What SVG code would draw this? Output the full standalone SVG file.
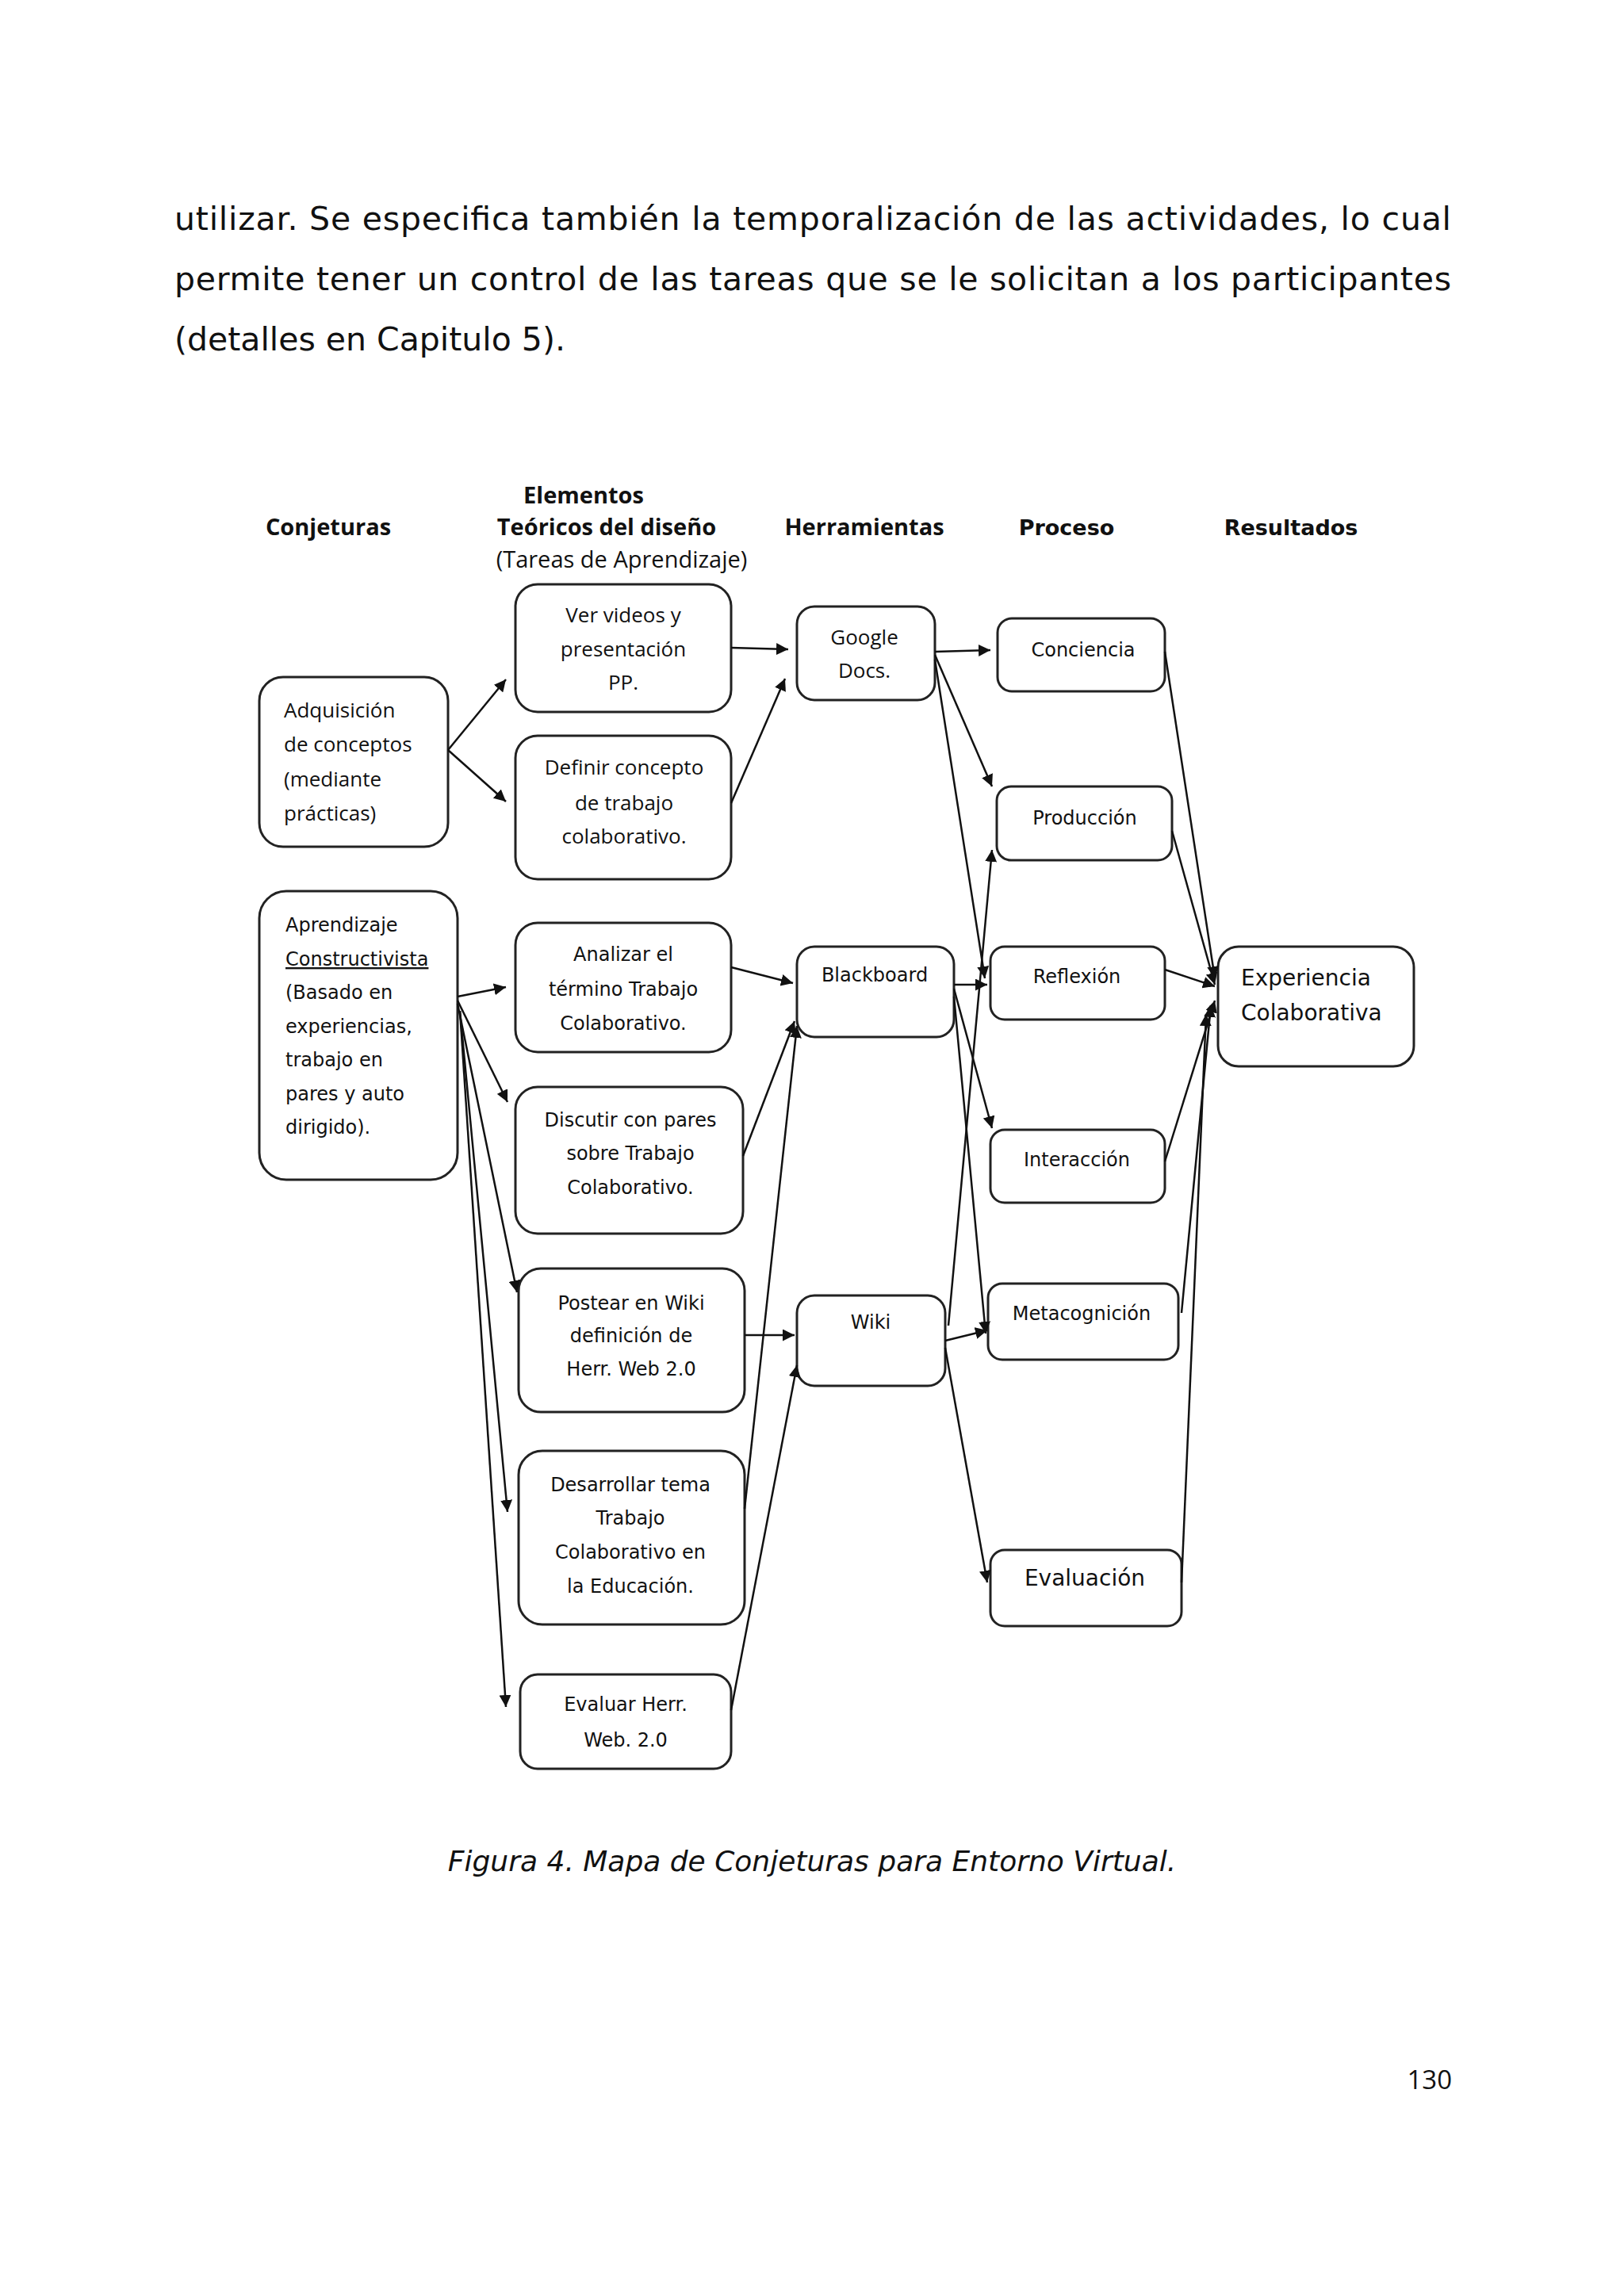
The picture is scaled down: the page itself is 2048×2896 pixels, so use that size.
<svg xmlns="http://www.w3.org/2000/svg" width="2048" height="2896" viewBox="0 0 2048 2896">
<style>
.bx{fill:#fff;stroke:#222;stroke-width:3}
.c{font-family:"Open Sans","Liberation Sans",sans-serif;font-size:26px;fill:#111}
.v{font-family:"DejaVu Sans","Liberation Sans",sans-serif;font-size:24px;fill:#111}
.h{font-family:"Open Sans","Liberation Sans",sans-serif;font-size:29px;font-weight:bold;fill:#111}
.hv{font-family:"DejaVu Sans",sans-serif;font-size:27px;font-weight:bold;fill:#111}
.p{font-family:"DejaVu Sans",sans-serif;font-size:41px;fill:#111}
.m{text-anchor:middle}
#connectors line{stroke:#111;stroke-width:2.5;marker-end:url(#ah)}
</style>
<defs><marker id="ah" viewBox="0 0 10 10" refX="10" refY="5" markerWidth="6" markerHeight="6" orient="auto" markerUnits="strokeWidth"><path d="M0,0L10,5L0,10z" fill="#111"/></marker></defs>
<rect width="2048" height="2896" fill="#fff"/>
<text class="p" x="220" y="290" textLength="1610" lengthAdjust="spacing">utilizar.  Se especifica también la temporalización de las actividades, lo cual</text>
<text class="p" x="220" y="366" textLength="1610" lengthAdjust="spacing">permite tener un control de las tareas que se le solicitan a los participantes</text>
<text class="p" x="220" y="442">(detalles en Capitulo 5).</text>
<text class="h m" x="414" y="675">Conjeturas</text>
<text class="h m" x="736" y="635">Elementos</text>
<text class="h m" x="765" y="675">Teóricos  del diseño</text>
<text class="c m" x="784" y="716" style="font-size:29px">(Tareas de  Aprendizaje)</text>
<text class="h m" x="1090" y="675">Herramientas</text>
<text class="hv m" x="1345" y="675">Proceso</text>
<text class="hv m" x="1628" y="675">Resultados</text>
<g id="n-adq"><rect class="bx" x="327" y="854" width="238" height="214" rx="30"/><text class="c" x="358" y="905">Adquisición</text><text class="c" x="358" y="948">de conceptos</text><text class="c" x="358" y="992">(mediante</text><text class="c" x="358" y="1035">prácticas)</text></g>
<g id="n-ver"><rect class="bx" x="650" y="737" width="272" height="161" rx="28"/><text class="c m" x="786" y="785">Ver videos y</text><text class="c m" x="786" y="828">presentación</text><text class="c m" x="786" y="870">PP.</text></g>
<g id="n-def"><rect class="bx" x="650" y="928" width="272" height="181" rx="28"/><text class="c m" x="787" y="977">Definir concepto</text><text class="c m" x="787" y="1022">de trabajo</text><text class="c m" x="787" y="1064">colaborativo.</text></g>
<g id="n-google"><rect class="bx" x="1005" y="765" width="174" height="118" rx="22"/><text class="c m" x="1090" y="813">Google</text><text class="c m" x="1090" y="855">Docs.</text></g>
<g id="n-apr"><rect class="bx" x="327" y="1124" width="250" height="364" rx="34"/><text class="v" x="360" y="1175">Aprendizaje</text><text class="v" x="360" y="1218" text-decoration="underline">Constructivista</text><text class="v" x="360" y="1260">(Basado en</text><text class="v" x="360" y="1303">experiencias,</text><text class="v" x="360" y="1345">trabajo en</text><text class="v" x="360" y="1388">pares y auto</text><text class="v" x="360" y="1430">dirigido).</text></g>
<g id="n-ana"><rect class="bx" x="650" y="1164" width="272" height="163" rx="28"/><text class="v m" x="786" y="1212">Analizar el</text><text class="v m" x="786" y="1256">término Trabajo</text><text class="v m" x="786" y="1299">Colaborativo.</text></g>
<g id="n-dis"><rect class="bx" x="650" y="1371" width="287" height="185" rx="28"/><text class="v m" x="795" y="1421">Discutir con pares</text><text class="v m" x="795" y="1463">sobre Trabajo</text><text class="v m" x="795" y="1506">Colaborativo.</text></g>
<g id="n-pos"><rect class="bx" x="654" y="1600" width="285" height="181" rx="28"/><text class="v m" x="796" y="1652">Postear en Wiki</text><text class="v m" x="796" y="1693">definición de</text><text class="v m" x="796" y="1735">Herr. Web 2.0</text></g>
<g id="n-des"><rect class="bx" x="654" y="1830" width="285" height="219" rx="30"/><text class="v m" x="795" y="1881">Desarrollar tema</text><text class="v m" x="795" y="1923">Trabajo</text><text class="v m" x="795" y="1966">Colaborativo en</text><text class="v m" x="795" y="2009">la  Educación.</text></g>
<g id="n-eva"><rect class="bx" x="656" y="2112" width="266" height="119" rx="22"/><text class="v m" x="789" y="2158">Evaluar Herr.</text><text class="v m" x="789" y="2203">Web. 2.0</text></g>
<g id="n-bb"><rect class="bx" x="1005" y="1194" width="198" height="114" rx="22"/><text class="v m" x="1103" y="1238">Blackboard</text></g>
<g id="n-wiki"><rect class="bx" x="1005" y="1634" width="187" height="114" rx="22"/><text class="v m" x="1098" y="1676">Wiki</text></g>
<g id="n-con"><rect class="bx" x="1258" y="780" width="211" height="92" rx="18"/><text class="v m" x="1366" y="828">Conciencia</text></g>
<g id="n-pro"><rect class="bx" x="1257" y="992" width="221" height="93" rx="18"/><text class="v m" x="1368" y="1040">Producción</text></g>
<g id="n-ref"><rect class="bx" x="1249" y="1194" width="220" height="92" rx="18"/><text class="v m" x="1358" y="1240">Reflexión</text></g>
<g id="n-int"><rect class="bx" x="1249" y="1425" width="220" height="92" rx="18"/><text class="v m" x="1358" y="1471">Interacción</text></g>
<g id="n-met"><rect class="bx" x="1246" y="1619" width="240" height="96" rx="18"/><text class="v m" x="1364" y="1665">Metacognición</text></g>
<g id="n-evl"><rect class="bx" x="1249" y="1955" width="241" height="96" rx="18"/><text class="v m" x="1368" y="2000" style="font-size:28px">Evaluación</text></g>
<g id="n-exp"><rect class="bx" x="1536" y="1194" width="247" height="151" rx="26"/><text class="v" x="1565" y="1243" style="font-size:28px">Experiencia</text><text class="v" x="1565" y="1287" style="font-size:28px">Colaborativa</text></g>
<g id="connectors">
<line x1="565" y1="946" x2="638" y2="857"/>
<line x1="565" y1="946" x2="638" y2="1011"/>
<line x1="922" y1="817" x2="994" y2="819"/>
<line x1="922" y1="1013" x2="990" y2="856"/>
<line x1="1179" y1="822" x2="1249" y2="820"/>
<line x1="1179" y1="826" x2="1251" y2="992"/>
<line x1="1179" y1="832" x2="1242" y2="1234"/>
<line x1="1203" y1="1242" x2="1245" y2="1242"/>
<line x1="1203" y1="1247" x2="1251" y2="1423"/>
<line x1="1203" y1="1257" x2="1243" y2="1682"/>
<line x1="1192" y1="1691" x2="1245" y2="1678"/>
<line x1="1192" y1="1700" x2="1245" y2="1996"/>
<line x1="1196" y1="1672" x2="1251" y2="1072"/>
<line x1="1469" y1="822" x2="1532" y2="1234"/>
<line x1="1478" y1="1048" x2="1532" y2="1242"/>
<line x1="1469" y1="1223" x2="1532" y2="1244"/>
<line x1="1469" y1="1465" x2="1532" y2="1262"/>
<line x1="1490" y1="1656" x2="1527" y2="1268"/>
<line x1="1490" y1="1996" x2="1521" y2="1279"/>
<line x1="577" y1="1257" x2="638" y2="1245"/>
<line x1="577" y1="1262" x2="640" y2="1390"/>
<line x1="577" y1="1266" x2="652" y2="1630"/>
<line x1="580" y1="1275" x2="640" y2="1907"/>
<line x1="580" y1="1275" x2="638" y2="2153"/>
<line x1="922" y1="1220" x2="1000" y2="1240"/>
<line x1="937" y1="1458" x2="1002" y2="1288"/>
<line x1="939" y1="1903" x2="1005" y2="1294"/>
<line x1="939" y1="1684" x2="1002" y2="1684"/>
<line x1="922" y1="2157" x2="1005" y2="1722"/>
</g>
<text class="p m" x="1024" y="2360" style="font-size:36px;font-style:italic">Figura 4. Mapa de Conjeturas para Entorno Virtual.</text>
<text x="1831" y="2635" text-anchor="end" style="font-family:'Open Sans','Liberation Sans',sans-serif;font-size:33px;fill:#111">130</text>
</svg>
